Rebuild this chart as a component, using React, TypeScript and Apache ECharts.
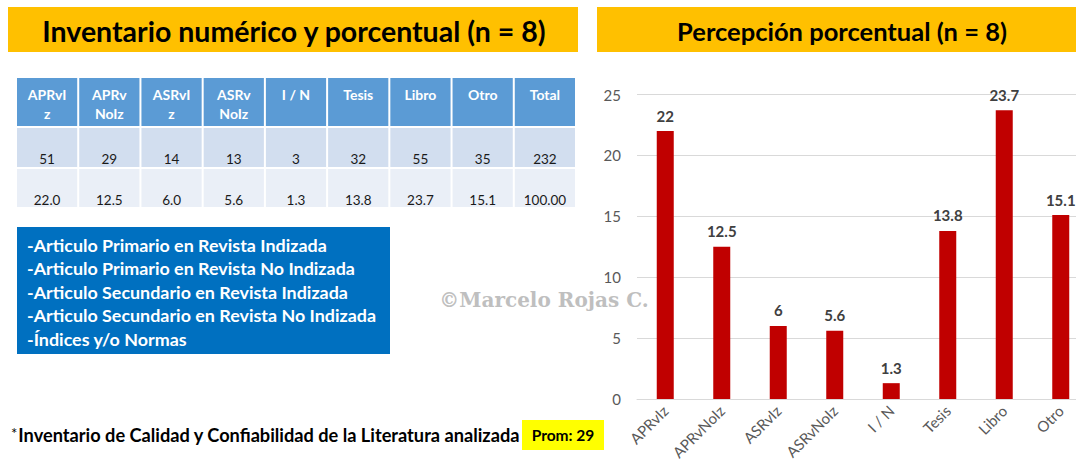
import React, { useEffect, useRef } from "react";
import * as echarts from "echarts";

const leftTitle = "Inventario numérico y porcentual (n = 8)";
const rightTitle = "Percepción porcentual (n = 8)";
const tableHeaders = ["APRvI\nz", "APRv\nNoIz", "ASRvI\nz", "ASRv\nNoIz", "I / N", "Tesis", "Libro", "Otro", "Total"];
const tableCounts = ["51", "29", "14", "13", "3", "32", "55", "35", "232"];
const tablePercents = ["22.0", "12.5", "6.0", "5.6", "1.3", "13.8", "23.7", "15.1", "100.00"];
const legendLines = [
  "-Articulo Primario en Revista Indizada",
  "-Articulo Primario en Revista No Indizada",
  "-Articulo Secundario en Revista Indizada",
  "-Articulo Secundario en Revista No Indizada",
  "-Índices y/o Normas",
];
const footnote = "Inventario de Calidad y Confiabilidad de la Literatura analizada";
const promText = "Prom: 29";
const watermark = "©Marcelo Rojas C.";
const categories = ["APRvIz", "APRvNoIz", "ASRvIz", "ASRvNoIz", "I / N", "Tesis", "Libro", "Otro"];
const percentValues = [22, 12.5, 6, 5.6, 1.3, 13.8, 23.7, 15.1];

const FONT = "Lato, 'Open Sans', sans-serif";

export default function App() {
  const ref = useRef<HTMLDivElement>(null);
  useEffect(() => {
    if (!ref.current) return;
    const chart = echarts.init(ref.current, null, { renderer: "svg" });
    const g: any[] = [];
    // title bars
    g.push({ type: "rect", shape: { x: 8, y: 7, width: 570, height: 45 }, style: { fill: "#FFC000" } });
    g.push({ type: "rect", shape: { x: 597, y: 7, width: 479, height: 45 }, style: { fill: "#FFC000" } });
    g.push({ type: "text", x: 294, y: 31, style: { text: leftTitle, fill: "#000", fontFamily: FONT, fontWeight: "bold", fontSize: 28.5, textAlign: "center", textVerticalAlign: "middle" } });
    g.push({ type: "text", x: 842, y: 31, style: { text: rightTitle, fill: "#000", fontFamily: FONT, fontWeight: "bold", fontSize: 25.5, textAlign: "center", textVerticalAlign: "middle" } });
    // table
    const tLeft = 17, tRight = 577;
    const pitch = (tRight - tLeft) / tableHeaders.length;
    const rows = [
      { y: 78, h: 48, fill: "#5B9BD5" },
      { y: 128, h: 39, fill: "#D2DEEF" },
      { y: 169, h: 38, fill: "#EAEFF7" },
    ];
    tableHeaders.forEach((h, i) => {
      const x = tLeft + i * pitch;
      rows.forEach((r) => {
        g.push({ type: "rect", shape: { x, y: r.y, width: pitch - 2, height: r.h }, style: { fill: r.fill } });
      });
      const cx = x + (pitch - 2) / 2;
      g.push({ type: "text", x: cx, y: 84.5, style: { text: h, fill: "#fff", fontFamily: FONT, fontWeight: "bold", fontSize: 14, lineHeight: 19, textAlign: "center", textVerticalAlign: "top" } });
      g.push({ type: "text", x: cx, y: 159, style: { text: tableCounts[i], fill: "#1a1a1a", fontFamily: FONT, fontSize: 13.5, textAlign: "center", textVerticalAlign: "middle" } });
      g.push({ type: "text", x: cx, y: 200, style: { text: tablePercents[i], fill: "#1a1a1a", fontFamily: FONT, fontSize: 13.5, textAlign: "center", textVerticalAlign: "middle" } });
    });
    // blue legend box
    g.push({ type: "rect", shape: { x: 17, y: 227, width: 373, height: 127 }, style: { fill: "#0070C0" } });
    legendLines.forEach((t, i) => {
      g.push({ type: "text", x: 27, y: 245 + i * 23.4, style: { text: t, fill: "#fff", fontFamily: FONT, fontWeight: "bold", fontSize: 17.9, textAlign: "left", textVerticalAlign: "middle" } });
    });
    // footnote and prom
    g.push({
      type: "text", x: 11, y: 435,
      style: {
        text: "{a|*}{b|" + footnote + "}",
        fontFamily: FONT, textAlign: "left", textVerticalAlign: "middle",
        rich: {
          a: { fill: "#000", fontFamily: FONT, fontSize: 15, verticalAlign: "top", padding: [0, 1, 4, 0] },
          b: { fill: "#000", fontFamily: FONT, fontWeight: "bold", fontSize: 18.2 },
        },
      },
    });
    g.push({ type: "rect", shape: { x: 522, y: 420, width: 82, height: 30 }, style: { fill: "#FFFF00" } });
    g.push({ type: "text", x: 563, y: 435, style: { text: promText, fill: "#000", fontFamily: FONT, fontWeight: "bold", fontSize: 15.5, textAlign: "center", textVerticalAlign: "middle" } });
    // watermark
    g.push({ type: "text", x: 544, y: 300, z: 100, style: { text: watermark, fill: "#BFBFBF", fontFamily: "'DejaVu Serif', serif", fontWeight: "bold", fontSize: 20, textAlign: "center", textVerticalAlign: "middle" } });

    chart.setOption({
      animation: false,
      backgroundColor: "#fff",
      grid: { left: 637, right: -13, top: 94.5, bottom: 67, outerBoundsMode: "none", containLabel: false },
      xAxis: {
        type: "category",
        data: categories,
        axisLine: { lineStyle: { color: "#D9D9D9", width: 1 } },
        axisTick: { show: false },
        axisLabel: { rotate: 45, color: "#595959", fontSize: 15, fontFamily: FONT, margin: 9, interval: 0 },
      },
      yAxis: {
        type: "value",
        min: 0,
        max: 25,
        interval: 5,
        axisLine: { show: false },
        axisTick: { show: false },
        splitLine: { lineStyle: { color: "#D9D9D9", width: 1 } },
        axisLabel: { color: "#595959", fontSize: 15, fontFamily: FONT, margin: 16 },
      },
      series: [
        {
          type: "bar",
          data: percentValues,
          barWidth: 17,
          itemStyle: { color: "#C00000" },
          label: { show: true, position: "top", distance: 8, color: "#404040", fontWeight: "bold", fontSize: 15, fontFamily: FONT },
        },
      ],
      graphic: g,
    });
    return () => chart.dispose();
  }, []);
  return <div ref={ref} style={{ position: "fixed", left: 0, top: 0, width: 1076, height: 466 }} />;
}
